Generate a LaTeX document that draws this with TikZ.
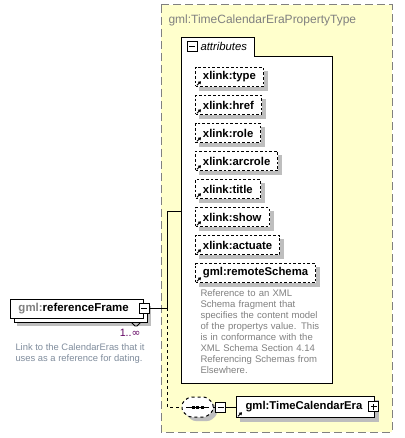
\documentclass[tikz,border=0pt]{standalone}
\usepackage{fontspec}
\setmainfont{Liberation Sans}
\newfontfamily\dvs{DejaVu Sans}
\usetikzlibrary{arrows.meta}
\definecolor{yel}{HTML}{FFFFCC}
\definecolor{shadowgray}{HTML}{BEBEBE}
\definecolor{bgray}{HTML}{808080}
\definecolor{mult}{HTML}{600060}
\definecolor{descgray}{HTML}{808080}
\definecolor{linkgray}{HTML}{7F8C9C}
\tikzset{
  attr/.style={draw, dash pattern=on 2pt off 1.5pt, fill=white,
    anchor=north west, inner xsep=5.6pt, inner ysep=0pt, minimum height=14.25pt,
    font=\bfseries\fontsize{8.5}{10}\selectfont},
  elbox/.style={draw, fill=white, anchor=north west, inner sep=0pt},
  eltext/.style={anchor=west, inner sep=0pt, font=\bfseries\fontsize{8.6}{10}\selectfont},
  minusbox/.style={draw, fill=white, minimum size=7.5pt, inner sep=0pt,
    path picture={\draw ([xshift=1.5pt]path picture bounding box.west) -- ([xshift=-1.5pt]path picture bounding box.east);}},
  plusbox/.style={draw, fill=white, minimum size=7.5pt, inner sep=0pt,
    path picture={\draw ([xshift=1.5pt]path picture bounding box.west) -- ([xshift=-1.5pt]path picture bounding box.east);
                  \draw ([yshift=1.5pt]path picture bounding box.south) -- ([yshift=-1.5pt]path picture bounding box.north);}},
  icon/.style={line width=0.75pt, -{Triangle[length=2pt,width=2.6pt]}},
  shadowfill/.style={fill=shadowgray, draw=none},
}
\newcommand\refarrow[1]{\draw[icon] ([xshift=1.5pt,yshift=1.3pt]#1.south west) -- ++(3pt,3pt);}
\newcommand\shadowL[1]{%
  \path[shadowfill] ([yshift=-3pt]#1.north east) rectangle ([xshift=3pt,yshift=-3pt]#1.south east);
  \path[shadowfill] ([xshift=3pt]#1.south west) rectangle ([xshift=3pt,yshift=-3pt]#1.south east);}
\newcommand\attrnode[4]{%
  \node[attr] (#1) at (#2,#3) {#4};
  \shadowL{#1}
  \refarrow{#1}}
\begin{document}
\begin{tikzpicture}[x=0.75pt,y=-0.75pt,line width=0.75pt]
\path[use as bounding box] (0,0) rectangle (404,438);

% outer complex type box
\draw[fill=yel, draw=bgray, dash pattern=on 6pt off 3pt] (161,5) rectangle (392,432);
\node[anchor=west, inner sep=0pt, text=bgray, font=\fontsize{9}{11}\selectfont] (title) at (168,20) {gml:TimeCalendarEraPropertyType};

% attributes group
\draw[fill=white] (181,383) -- (181,38) -- (254,38) -- (254,57) -- (332,57) -- (332,383) -- cycle;
\coordinate (attrin) at (181,211);
\node[minusbox] (attrminus) at (192,46.5) {};
\node[anchor=west, inner sep=0pt, font=\itshape\fontsize{8.5}{10}\selectfont] (attrlabel) at (200,46.5) {attributes};

\attrnode{a1}{195}{67}{xlink:type}
\attrnode{a2}{195}{95}{xlink:href}
\attrnode{a3}{195}{123}{xlink:role}
\attrnode{a4}{195}{151}{xlink:arcrole}
\attrnode{a5}{195}{179}{xlink:title}
\attrnode{a6}{195}{207}{xlink:show}
\attrnode{a7}{195}{235}{xlink:actuate}
\attrnode{a8}{195}{263}{gml:remoteSchema}

\node[anchor=north west, inner sep=0pt, text width=100pt, align=left, text=descgray,
  font=\fontsize{7.15}{8.25}\selectfont] (a8desc) at (200,289)
  {Reference to an XML\\Schema fragment that\\specifies the content model\\of the propertys value. This\\is in conformance with the\\XML Schema Section 4.14\\Referencing Schemas from\\Elsewhere.};

% referenceFrame element (multiple occurrence)
\fill[shadowgray] (17,306) rectangle (151,326);
\draw[fill=white] (14,303) rectangle (147,322);
\node[elbox, minimum width=99.75pt, minimum height=14.25pt] (rf) at (10,299) {};
\node[eltext] (rftext) at ([xshift=6pt]rf.west) {\textcolor{bgray}{gml:}referenceFrame};
\node[minusbox] (rfminus) at (144,308) {};
\draw[line width=0.6pt] (131.5,322.5) -- (135,326) -- (137,326) -- (140.5,322.5);
\node[anchor=east, inner sep=0pt, text=mult, font=\fontsize{8}{10}\selectfont] (rfmult) at (141,333) {1..{\dvs ∞}};
\node[anchor=north west, inner sep=0pt, align=left, text=linkgray,
  font=\fontsize{7.05}{8.6}\selectfont] (rfdesc) at (15,343)
  {Link to the CalendarEras that it\\uses as a reference for dating.};

% connectors from referenceFrame
\coordinate (j1) at (167,308);
\draw (rfminus.east) -- (j1) |- (attrin);
\draw[dash pattern=on 2.25pt off 2.25pt] (j1) |- (182,407) coordinate (seqW);

% sequence compositor
\fill[shadowgray, rounded corners=2pt] (193,401) -- (210,401) -- (217,407) -- (217,415) -- (210,421) -- (193,421) -- (186,415) -- (186,407) -- cycle;
\draw[fill=white, dash pattern=on 2.25pt off 2.25pt, rounded corners=2pt] (189,397) -- (206,397) -- (213,403) -- (213,411) -- (206,417) -- (189,417) -- (182,411) -- (182,403) -- cycle;
\coordinate (seqE) at (213,407);
\draw (186,407) -- (209,407);
\foreach \xx in {193,197.5,202} \fill (\xx-1.5,405.5) rectangle (\xx+1.5,408.5);
\node[minusbox] (seqminus) at (220.5,407) {};
\draw (seqE) -- (seqminus.west);

% TimeCalendarEra element
\node[elbox, minimum width=103.5pt, minimum height=15.75pt] (tce) at (236,396) {};
\shadowL{tce}
\node[eltext, font=\bfseries\fontsize{8.5}{10}\selectfont] (tcetext) at ([xshift=6.75pt]tce.west) {gml:TimeCalendarEra};
\refarrow{tce}
\node[plusbox] (tceplus) at (373.5,406.5) {};
\draw (seqminus.east) -- (tce.west);
\end{tikzpicture}
\end{document}
